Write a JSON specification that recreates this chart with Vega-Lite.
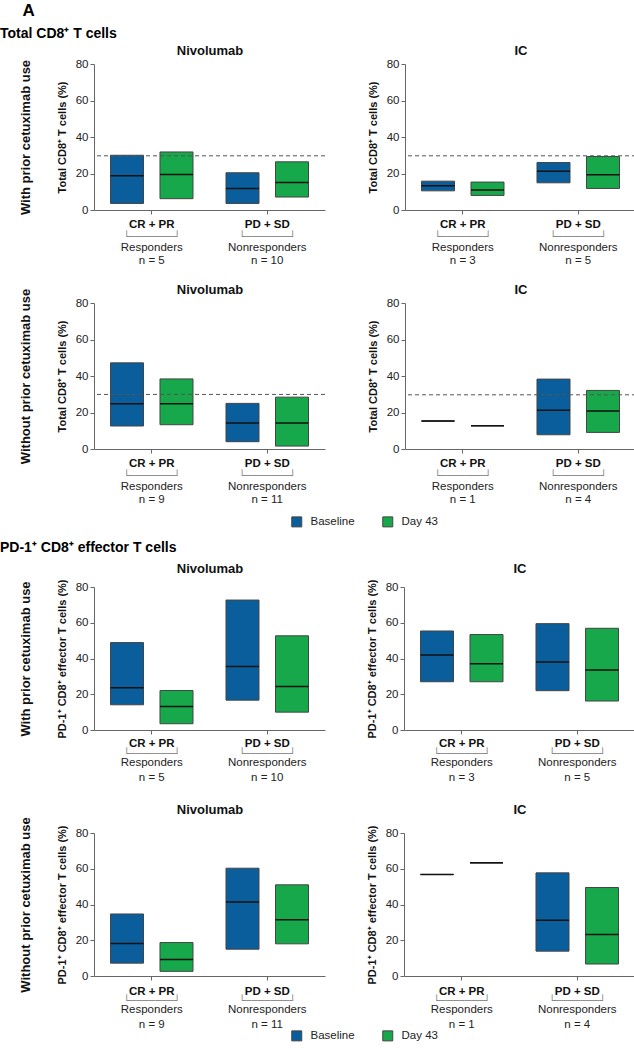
{
"$schema": "https://vega.github.io/schema/vega-lite/v6.json",
"padding": {"left": 0, "top": 2, "right": 0, "bottom": 0},
"config": {
  "font": "Liberation Sans",
  "view": {"stroke": null},
  "axis": {"grid": false, "domainColor": "#666", "tickColor": "#666", "labelColor": "#222", "titleColor": "#111", "labelFont": "Liberation Sans", "titleFont": "Liberation Sans"},
  "legend": {"orient": "none", "legendX": 197, "direction": "horizontal", "title": null, "symbolType": "square", "symbolSize": 100, "symbolStrokeColor": "#444", "symbolStrokeWidth": 1, "labelFontSize": 11.5, "labelColor": "#222", "columnPadding": 25, "labelOffset": 8}
},
"datasets": {
  "d1": [
    {"group": "CR + PR", "time": "Baseline", "min": 3.6, "median": 18.7, "max": 30.0},
    {"group": "CR + PR", "time": "Day 43", "min": 6.2, "median": 19.5, "max": 31.8},
    {"group": "PD + SD", "time": "Baseline", "min": 3.6, "median": 11.8, "max": 20.4},
    {"group": "PD + SD", "time": "Day 43", "min": 7.1, "median": 15.1, "max": 26.4}
  ],
  "d2": [
    {"group": "CR + PR", "time": "Baseline", "min": 10.5, "median": 13.3, "max": 15.8},
    {"group": "CR + PR", "time": "Day 43", "min": 8.0, "median": 10.9, "max": 15.3},
    {"group": "PD + SD", "time": "Baseline", "min": 14.9, "median": 21.3, "max": 26.0},
    {"group": "PD + SD", "time": "Day 43", "min": 11.8, "median": 19.3, "max": 29.3}
  ],
  "d3": [
    {"group": "CR + PR", "time": "Baseline", "min": 12.6, "median": 24.8, "max": 47.2},
    {"group": "CR + PR", "time": "Day 43", "min": 13.3, "median": 24.8, "max": 38.4},
    {"group": "PD + SD", "time": "Baseline", "min": 4.0, "median": 14.2, "max": 25.0},
    {"group": "PD + SD", "time": "Day 43", "min": 1.6, "median": 14.2, "max": 28.4}
  ],
  "d4": [
    {"group": "CR + PR", "time": "Baseline", "min": 15.3, "median": 15.3, "max": 15.3},
    {"group": "CR + PR", "time": "Day 43", "min": 12.75, "median": 12.75, "max": 12.75},
    {"group": "PD + SD", "time": "Baseline", "min": 7.8, "median": 21.3, "max": 38.3},
    {"group": "PD + SD", "time": "Day 43", "min": 9.1, "median": 20.8, "max": 32.1}
  ],
  "d5": [
    {"group": "CR + PR", "time": "Baseline", "min": 14.1, "median": 23.6, "max": 48.9},
    {"group": "CR + PR", "time": "Day 43", "min": 3.5, "median": 13.2, "max": 22.1},
    {"group": "PD + SD", "time": "Baseline", "min": 16.7, "median": 35.5, "max": 72.7},
    {"group": "PD + SD", "time": "Day 43", "min": 10.0, "median": 24.4, "max": 52.7}
  ],
  "d6": [
    {"group": "CR + PR", "time": "Baseline", "min": 27.0, "median": 41.9, "max": 55.4},
    {"group": "CR + PR", "time": "Day 43", "min": 27.0, "median": 37.0, "max": 53.4},
    {"group": "PD + SD", "time": "Baseline", "min": 22.0, "median": 38.1, "max": 59.5},
    {"group": "PD + SD", "time": "Day 43", "min": 16.2, "median": 33.5, "max": 56.9}
  ],
  "d7": [
    {"group": "CR + PR", "time": "Baseline", "min": 7.2, "median": 18.2, "max": 34.7},
    {"group": "CR + PR", "time": "Day 43", "min": 2.6, "median": 9.3, "max": 18.7},
    {"group": "PD + SD", "time": "Baseline", "min": 15.0, "median": 41.4, "max": 60.3},
    {"group": "PD + SD", "time": "Day 43", "min": 18.0, "median": 31.4, "max": 51.0}
  ],
  "d8": [
    {"group": "CR + PR", "time": "Baseline", "min": 56.8, "median": 56.8, "max": 56.8},
    {"group": "CR + PR", "time": "Day 43", "min": 63.3, "median": 63.3, "max": 63.3},
    {"group": "PD + SD", "time": "Baseline", "min": 13.9, "median": 31.2, "max": 57.7},
    {"group": "PD + SD", "time": "Day 43", "min": 6.7, "median": 23.2, "max": 49.5}
  ]
},
"title": {"text": "A", "anchor": "start", "frame": "bounds", "fontSize": 17, "fontWeight": "bold", "color": "#000", "offset": 7, "dx": 22.5},
"resolve": {"scale": {"color": "independent"}},
"spacing": 12,
"vconcat": [
{
  "title": {"text": "Total CD8⁺ T cells", "anchor": "start", "frame": "bounds", "fontSize": 14, "fontWeight": "bold", "color": "#000", "offset": 3, "dx": -19},
  "spacing": 17,
  "vconcat": [
  {"spacing": 41, "hconcat": [
    {"width": 231, "height": 146, "data": {"name": "d1"},
     "resolve": {"axis": {"x": "independent", "y": "independent"}},
     "layer": [
      {"mark": {"type": "bar", "stroke": "#444", "strokeWidth": 1},
       "encoding": {
        "x": {"field": "group", "type": "nominal", "sort": ["CR + PR", "PD + SD"], "scale": {"paddingInner": 0, "paddingOuter": 0}, "axis": {"orient": "bottom", "title": null, "labelAngle": 0, "labelFontSize": 11.5, "labelFontWeight": "bold", "labelColor": "#111", "labelPadding": 4, "tickSize": 4, "labelOverlap": false}},
        "xOffset": {"field": "time", "type": "nominal", "sort": ["Baseline", "Day 43"], "scale": {"paddingInner": 0.333, "paddingOuter": 0.333}},
        "y": {"field": "min", "type": "quantitative", "scale": {"domain": [0, 80]}, "axis": {"orient": "left", "title": "Total CD8⁺ T cells (%)", "values": [0, 20, 40, 60, 80], "tickSize": 4, "labelFontSize": 11.5, "labelPadding": 2, "titleFontSize": 11, "titleFontWeight": "bold", "titlePadding": 8}},
        "y2": {"field": "max"},
        "color": {"field": "time", "type": "nominal", "scale": {"domain": ["Baseline", "Day 43"], "range": ["#0b5e9c", "#17a84b"]}, "legend": {"legendY": 452}}
       }},
      {"mark": {"type": "bar", "fillOpacity": 0, "stroke": "#111", "strokeWidth": 1.5},
       "encoding": {
        "x": {"field": "group", "type": "nominal", "sort": ["CR + PR", "PD + SD"], "axis": {"orient": "bottom", "title": null, "domain": false, "ticks": false, "labelAngle": 0, "labelFont": "DejaVu Sans Mono", "labelFontSize": 10.5, "labelColor": "#888", "labelPadding": 21.5, "labelOverlap": false, "labelExpr": "'└───────┘'"}},
        "xOffset": {"field": "time", "type": "nominal", "sort": ["Baseline", "Day 43"]},
        "y": {"field": "median", "type": "quantitative", "scale": {"domain": [0, 80]}, "axis": {"orient": "left", "title": "With prior cetuximab use", "domain": false, "ticks": false, "labels": false, "titleFontSize": 13, "titleFontWeight": "bold", "titlePadding": 62}},
        "y2": {"field": "median"}
       }},
      {"mark": {"type": "point", "opacity": 0},
       "encoding": {
        "x": {"field": "group", "type": "nominal", "sort": ["CR + PR", "PD + SD"], "axis": {"orient": "bottom", "title": null, "domain": false, "ticks": false, "labelAngle": 0, "labelFontSize": 11.5, "labelColor": "#222", "labelPadding": 31, "labelLineHeight": 13, "labelOverlap": false, "labelExpr": "datum.value == 'CR + PR' ? ['Responders', 'n = 5'] : ['Nonresponders', 'n = 10']"}},
        "y": {"field": "median", "type": "quantitative", "scale": {"domain": [0, 80]}, "axis": null}
       }},
      {"mark": {"type": "point", "opacity": 0},
       "encoding": {
        "x": {"field": "group", "type": "nominal", "sort": ["CR + PR", "PD + SD"], "axis": {"orient": "top", "title": "Nivolumab", "domain": false, "ticks": false, "labels": false, "titleFontSize": 13, "titleFontWeight": "bold", "titleColor": "#111", "titlePadding": 7}}
       }},
      {"data": {"values": [{"ref": 29.7}]},
       "mark": {"type": "rule", "stroke": "#555", "strokeDash": [4, 3], "strokeWidth": 1},
       "encoding": {"y": {"field": "ref", "type": "quantitative", "scale": {"domain": [0, 80]}, "axis": null}}}
     ]},
    {"width": 231, "height": 146, "data": {"name": "d2"},
     "resolve": {"axis": {"x": "independent", "y": "independent"}},
     "layer": [
      {"mark": {"type": "bar", "stroke": "#444", "strokeWidth": 1},
       "encoding": {
        "x": {"field": "group", "type": "nominal", "sort": ["CR + PR", "PD + SD"], "scale": {"paddingInner": 0, "paddingOuter": 0}, "axis": {"orient": "bottom", "title": null, "labelAngle": 0, "labelFontSize": 11.5, "labelFontWeight": "bold", "labelColor": "#111", "labelPadding": 4, "tickSize": 4, "labelOverlap": false}},
        "xOffset": {"field": "time", "type": "nominal", "sort": ["Baseline", "Day 43"], "scale": {"paddingInner": 0.333, "paddingOuter": 0.333}},
        "y": {"field": "min", "type": "quantitative", "scale": {"domain": [0, 80]}, "axis": {"orient": "left", "title": "Total CD8⁺ T cells (%)", "values": [0, 20, 40, 60, 80], "tickSize": 4, "labelFontSize": 11.5, "labelPadding": 2, "titleFontSize": 11, "titleFontWeight": "bold", "titlePadding": 8}},
        "y2": {"field": "max"},
        "color": {"field": "time", "type": "nominal", "scale": {"domain": ["Baseline", "Day 43"], "range": ["#0b5e9c", "#17a84b"]}, "legend": {"legendY": 452}}
       }},
      {"mark": {"type": "bar", "fillOpacity": 0, "stroke": "#111", "strokeWidth": 1.5},
       "encoding": {
        "x": {"field": "group", "type": "nominal", "sort": ["CR + PR", "PD + SD"], "axis": {"orient": "bottom", "title": null, "domain": false, "ticks": false, "labelAngle": 0, "labelFont": "DejaVu Sans Mono", "labelFontSize": 10.5, "labelColor": "#888", "labelPadding": 21.5, "labelOverlap": false, "labelExpr": "'└───────┘'"}},
        "xOffset": {"field": "time", "type": "nominal", "sort": ["Baseline", "Day 43"]},
        "y": {"field": "median", "type": "quantitative", "scale": {"domain": [0, 80]}, "axis": null},
        "y2": {"field": "median"}
       }},
      {"mark": {"type": "point", "opacity": 0},
       "encoding": {
        "x": {"field": "group", "type": "nominal", "sort": ["CR + PR", "PD + SD"], "axis": {"orient": "bottom", "title": null, "domain": false, "ticks": false, "labelAngle": 0, "labelFontSize": 11.5, "labelColor": "#222", "labelPadding": 31, "labelLineHeight": 13, "labelOverlap": false, "labelExpr": "datum.value == 'CR + PR' ? ['Responders', 'n = 3'] : ['Nonresponders', 'n = 5']"}},
        "y": {"field": "median", "type": "quantitative", "scale": {"domain": [0, 80]}, "axis": null}
       }},
      {"mark": {"type": "point", "opacity": 0},
       "encoding": {
        "x": {"field": "group", "type": "nominal", "sort": ["CR + PR", "PD + SD"], "axis": {"orient": "top", "title": "IC", "domain": false, "ticks": false, "labels": false, "titleFontSize": 13, "titleFontWeight": "bold", "titleColor": "#111", "titlePadding": 7}}
       }},
      {"data": {"values": [{"ref": 29.7}]},
       "mark": {"type": "rule", "stroke": "#555", "strokeDash": [4, 3], "strokeWidth": 1},
       "encoding": {"y": {"field": "ref", "type": "quantitative", "scale": {"domain": [0, 80]}, "axis": null}}}
     ]}
  ]},
  {"spacing": 41, "hconcat": [
    {"width": 231, "height": 146, "data": {"name": "d3"},
     "resolve": {"axis": {"x": "independent", "y": "independent"}},
     "layer": [
      {"mark": {"type": "bar", "stroke": "#444", "strokeWidth": 1},
       "encoding": {
        "x": {"field": "group", "type": "nominal", "sort": ["CR + PR", "PD + SD"], "scale": {"paddingInner": 0, "paddingOuter": 0}, "axis": {"orient": "bottom", "title": null, "labelAngle": 0, "labelFontSize": 11.5, "labelFontWeight": "bold", "labelColor": "#111", "labelPadding": 4, "tickSize": 4, "labelOverlap": false}},
        "xOffset": {"field": "time", "type": "nominal", "sort": ["Baseline", "Day 43"], "scale": {"paddingInner": 0.333, "paddingOuter": 0.333}},
        "y": {"field": "min", "type": "quantitative", "scale": {"domain": [0, 80]}, "axis": {"orient": "left", "title": "Total CD8⁺ T cells (%)", "values": [0, 20, 40, 60, 80], "tickSize": 4, "labelFontSize": 11.5, "labelPadding": 2, "titleFontSize": 11, "titleFontWeight": "bold", "titlePadding": 8}},
        "y2": {"field": "max"},
        "color": {"field": "time", "type": "nominal", "scale": {"domain": ["Baseline", "Day 43"], "range": ["#0b5e9c", "#17a84b"]}, "legend": {"legendY": 452}}
       }},
      {"mark": {"type": "bar", "fillOpacity": 0, "stroke": "#111", "strokeWidth": 1.5},
       "encoding": {
        "x": {"field": "group", "type": "nominal", "sort": ["CR + PR", "PD + SD"], "axis": {"orient": "bottom", "title": null, "domain": false, "ticks": false, "labelAngle": 0, "labelFont": "DejaVu Sans Mono", "labelFontSize": 10.5, "labelColor": "#888", "labelPadding": 21.5, "labelOverlap": false, "labelExpr": "'└───────┘'"}},
        "xOffset": {"field": "time", "type": "nominal", "sort": ["Baseline", "Day 43"]},
        "y": {"field": "median", "type": "quantitative", "scale": {"domain": [0, 80]}, "axis": {"orient": "left", "title": "Without prior cetuximab use", "domain": false, "ticks": false, "labels": false, "titleFontSize": 13, "titleFontWeight": "bold", "titlePadding": 62}},
        "y2": {"field": "median"}
       }},
      {"mark": {"type": "point", "opacity": 0},
       "encoding": {
        "x": {"field": "group", "type": "nominal", "sort": ["CR + PR", "PD + SD"], "axis": {"orient": "bottom", "title": null, "domain": false, "ticks": false, "labelAngle": 0, "labelFontSize": 11.5, "labelColor": "#222", "labelPadding": 31, "labelLineHeight": 13, "labelOverlap": false, "labelExpr": "datum.value == 'CR + PR' ? ['Responders', 'n = 9'] : ['Nonresponders', 'n = 11']"}},
        "y": {"field": "median", "type": "quantitative", "scale": {"domain": [0, 80]}, "axis": null}
       }},
      {"mark": {"type": "point", "opacity": 0},
       "encoding": {
        "x": {"field": "group", "type": "nominal", "sort": ["CR + PR", "PD + SD"], "axis": {"orient": "top", "title": "Nivolumab", "domain": false, "ticks": false, "labels": false, "titleFontSize": 13, "titleFontWeight": "bold", "titleColor": "#111", "titlePadding": 7}}
       }},
      {"data": {"values": [{"ref": 29.9}]},
       "mark": {"type": "rule", "stroke": "#555", "strokeDash": [4, 3], "strokeWidth": 1},
       "encoding": {"y": {"field": "ref", "type": "quantitative", "scale": {"domain": [0, 80]}, "axis": null}}}
     ]},
    {"width": 231, "height": 146, "data": {"name": "d4"},
     "resolve": {"axis": {"x": "independent", "y": "independent"}},
     "layer": [
      {"mark": {"type": "bar", "stroke": "#444", "strokeWidth": 1},
       "encoding": {
        "x": {"field": "group", "type": "nominal", "sort": ["CR + PR", "PD + SD"], "scale": {"paddingInner": 0, "paddingOuter": 0}, "axis": {"orient": "bottom", "title": null, "labelAngle": 0, "labelFontSize": 11.5, "labelFontWeight": "bold", "labelColor": "#111", "labelPadding": 4, "tickSize": 4, "labelOverlap": false}},
        "xOffset": {"field": "time", "type": "nominal", "sort": ["Baseline", "Day 43"], "scale": {"paddingInner": 0.333, "paddingOuter": 0.333}},
        "y": {"field": "min", "type": "quantitative", "scale": {"domain": [0, 80]}, "axis": {"orient": "left", "title": "Total CD8⁺ T cells (%)", "values": [0, 20, 40, 60, 80], "tickSize": 4, "labelFontSize": 11.5, "labelPadding": 2, "titleFontSize": 11, "titleFontWeight": "bold", "titlePadding": 8}},
        "y2": {"field": "max"},
        "color": {"field": "time", "type": "nominal", "scale": {"domain": ["Baseline", "Day 43"], "range": ["#0b5e9c", "#17a84b"]}, "legend": {"legendY": 452}}
       }},
      {"mark": {"type": "bar", "fillOpacity": 0, "stroke": "#111", "strokeWidth": 1.5},
       "encoding": {
        "x": {"field": "group", "type": "nominal", "sort": ["CR + PR", "PD + SD"], "axis": {"orient": "bottom", "title": null, "domain": false, "ticks": false, "labelAngle": 0, "labelFont": "DejaVu Sans Mono", "labelFontSize": 10.5, "labelColor": "#888", "labelPadding": 21.5, "labelOverlap": false, "labelExpr": "'└───────┘'"}},
        "xOffset": {"field": "time", "type": "nominal", "sort": ["Baseline", "Day 43"]},
        "y": {"field": "median", "type": "quantitative", "scale": {"domain": [0, 80]}, "axis": null},
        "y2": {"field": "median"}
       }},
      {"mark": {"type": "point", "opacity": 0},
       "encoding": {
        "x": {"field": "group", "type": "nominal", "sort": ["CR + PR", "PD + SD"], "axis": {"orient": "bottom", "title": null, "domain": false, "ticks": false, "labelAngle": 0, "labelFontSize": 11.5, "labelColor": "#222", "labelPadding": 31, "labelLineHeight": 13, "labelOverlap": false, "labelExpr": "datum.value == 'CR + PR' ? ['Responders', 'n = 1'] : ['Nonresponders', 'n = 4']"}},
        "y": {"field": "median", "type": "quantitative", "scale": {"domain": [0, 80]}, "axis": null}
       }},
      {"mark": {"type": "point", "opacity": 0},
       "encoding": {
        "x": {"field": "group", "type": "nominal", "sort": ["CR + PR", "PD + SD"], "axis": {"orient": "top", "title": "IC", "domain": false, "ticks": false, "labels": false, "titleFontSize": 13, "titleFontWeight": "bold", "titleColor": "#111", "titlePadding": 7}}
       }},
      {"data": {"values": [{"ref": 29.7}]},
       "mark": {"type": "rule", "stroke": "#555", "strokeDash": [4, 3], "strokeWidth": 1},
       "encoding": {"y": {"field": "ref", "type": "quantitative", "scale": {"domain": [0, 80]}, "axis": null}}}
     ]}
  ]}
  ]
},
{
  "title": {"text": "PD-1⁺ CD8⁺ effector T cells", "anchor": "start", "frame": "bounds", "fontSize": 14, "fontWeight": "bold", "color": "#000", "offset": 7, "dx": -19},
  "spacing": 20,
  "vconcat": [
  {"spacing": 41, "hconcat": [
    {"width": 231, "height": 143, "data": {"name": "d5"},
     "resolve": {"axis": {"x": "independent", "y": "independent"}},
     "layer": [
      {"mark": {"type": "bar", "stroke": "#444", "strokeWidth": 1},
       "encoding": {
        "x": {"field": "group", "type": "nominal", "sort": ["CR + PR", "PD + SD"], "scale": {"paddingInner": 0, "paddingOuter": 0}, "axis": {"orient": "bottom", "title": null, "labelAngle": 0, "labelFontSize": 11.5, "labelFontWeight": "bold", "labelColor": "#111", "labelPadding": 3, "tickSize": 4, "labelOverlap": false}},
        "xOffset": {"field": "time", "type": "nominal", "sort": ["Baseline", "Day 43"], "scale": {"paddingInner": 0.333, "paddingOuter": 0.333}},
        "y": {"field": "min", "type": "quantitative", "scale": {"domain": [0, 80]}, "axis": {"orient": "left", "title": "PD-1⁺ CD8⁺ effector T cells (%)", "values": [0, 20, 40, 60, 80], "tickSize": 4, "labelFontSize": 11.5, "labelPadding": 2, "titleFontSize": 11, "titleFontWeight": "bold", "titlePadding": 8}},
        "y2": {"field": "max"},
        "color": {"field": "time", "type": "nominal", "scale": {"domain": ["Baseline", "Day 43"], "range": ["#0b5e9c", "#17a84b"]}, "legend": {"legendY": 443}}
       }},
      {"mark": {"type": "bar", "fillOpacity": 0, "stroke": "#111", "strokeWidth": 1.5},
       "encoding": {
        "x": {"field": "group", "type": "nominal", "sort": ["CR + PR", "PD + SD"], "axis": {"orient": "bottom", "title": null, "domain": false, "ticks": false, "labelAngle": 0, "labelFont": "DejaVu Sans Mono", "labelFontSize": 10.5, "labelColor": "#888", "labelPadding": 18.5, "labelOverlap": false, "labelExpr": "'└───────┘'"}},
        "xOffset": {"field": "time", "type": "nominal", "sort": ["Baseline", "Day 43"]},
        "y": {"field": "median", "type": "quantitative", "scale": {"domain": [0, 80]}, "axis": {"orient": "left", "title": "With prior cetuximab use", "domain": false, "ticks": false, "labels": false, "titleFontSize": 13, "titleFontWeight": "bold", "titlePadding": 62}},
        "y2": {"field": "median"}
       }},
      {"mark": {"type": "point", "opacity": 0},
       "encoding": {
        "x": {"field": "group", "type": "nominal", "sort": ["CR + PR", "PD + SD"], "axis": {"orient": "bottom", "title": null, "domain": false, "ticks": false, "labelAngle": 0, "labelFontSize": 11.5, "labelColor": "#222", "labelPadding": 26, "labelLineHeight": 15, "labelOverlap": false, "labelExpr": "datum.value == 'CR + PR' ? ['Responders', 'n = 5'] : ['Nonresponders', 'n = 10']"}},
        "y": {"field": "median", "type": "quantitative", "scale": {"domain": [0, 80]}, "axis": null}
       }},
      {"mark": {"type": "point", "opacity": 0},
       "encoding": {
        "x": {"field": "group", "type": "nominal", "sort": ["CR + PR", "PD + SD"], "axis": {"orient": "top", "title": "Nivolumab", "domain": false, "ticks": false, "labels": false, "titleFontSize": 13, "titleFontWeight": "bold", "titleColor": "#111", "titlePadding": 12}}
       }}
     ]},
    {"width": 231, "height": 143, "data": {"name": "d6"},
     "resolve": {"axis": {"x": "independent", "y": "independent"}},
     "layer": [
      {"mark": {"type": "bar", "stroke": "#444", "strokeWidth": 1},
       "encoding": {
        "x": {"field": "group", "type": "nominal", "sort": ["CR + PR", "PD + SD"], "scale": {"paddingInner": 0, "paddingOuter": 0}, "axis": {"orient": "bottom", "title": null, "labelAngle": 0, "labelFontSize": 11.5, "labelFontWeight": "bold", "labelColor": "#111", "labelPadding": 3, "tickSize": 4, "labelOverlap": false}},
        "xOffset": {"field": "time", "type": "nominal", "sort": ["Baseline", "Day 43"], "scale": {"paddingInner": 0.333, "paddingOuter": 0.333}},
        "y": {"field": "min", "type": "quantitative", "scale": {"domain": [0, 80]}, "axis": {"orient": "left", "title": "PD-1⁺ CD8⁺ effector T cells (%)", "values": [0, 20, 40, 60, 80], "tickSize": 4, "labelFontSize": 11.5, "labelPadding": 2, "titleFontSize": 11, "titleFontWeight": "bold", "titlePadding": 8}},
        "y2": {"field": "max"},
        "color": {"field": "time", "type": "nominal", "scale": {"domain": ["Baseline", "Day 43"], "range": ["#0b5e9c", "#17a84b"]}, "legend": {"legendY": 443}}
       }},
      {"mark": {"type": "bar", "fillOpacity": 0, "stroke": "#111", "strokeWidth": 1.5},
       "encoding": {
        "x": {"field": "group", "type": "nominal", "sort": ["CR + PR", "PD + SD"], "axis": {"orient": "bottom", "title": null, "domain": false, "ticks": false, "labelAngle": 0, "labelFont": "DejaVu Sans Mono", "labelFontSize": 10.5, "labelColor": "#888", "labelPadding": 18.5, "labelOverlap": false, "labelExpr": "'└───────┘'"}},
        "xOffset": {"field": "time", "type": "nominal", "sort": ["Baseline", "Day 43"]},
        "y": {"field": "median", "type": "quantitative", "scale": {"domain": [0, 80]}, "axis": null},
        "y2": {"field": "median"}
       }},
      {"mark": {"type": "point", "opacity": 0},
       "encoding": {
        "x": {"field": "group", "type": "nominal", "sort": ["CR + PR", "PD + SD"], "axis": {"orient": "bottom", "title": null, "domain": false, "ticks": false, "labelAngle": 0, "labelFontSize": 11.5, "labelColor": "#222", "labelPadding": 26, "labelLineHeight": 15, "labelOverlap": false, "labelExpr": "datum.value == 'CR + PR' ? ['Responders', 'n = 3'] : ['Nonresponders', 'n = 5']"}},
        "y": {"field": "median", "type": "quantitative", "scale": {"domain": [0, 80]}, "axis": null}
       }},
      {"mark": {"type": "point", "opacity": 0},
       "encoding": {
        "x": {"field": "group", "type": "nominal", "sort": ["CR + PR", "PD + SD"], "axis": {"orient": "top", "title": "IC", "domain": false, "ticks": false, "labels": false, "titleFontSize": 13, "titleFontWeight": "bold", "titleColor": "#111", "titlePadding": 12}}
       }}
     ]}
  ]},
  {"spacing": 41, "hconcat": [
    {"width": 231, "height": 143, "data": {"name": "d7"},
     "resolve": {"axis": {"x": "independent", "y": "independent"}},
     "layer": [
      {"mark": {"type": "bar", "stroke": "#444", "strokeWidth": 1},
       "encoding": {
        "x": {"field": "group", "type": "nominal", "sort": ["CR + PR", "PD + SD"], "scale": {"paddingInner": 0, "paddingOuter": 0}, "axis": {"orient": "bottom", "title": null, "labelAngle": 0, "labelFontSize": 11.5, "labelFontWeight": "bold", "labelColor": "#111", "labelPadding": 5, "tickSize": 4, "labelOverlap": false}},
        "xOffset": {"field": "time", "type": "nominal", "sort": ["Baseline", "Day 43"], "scale": {"paddingInner": 0.333, "paddingOuter": 0.333}},
        "y": {"field": "min", "type": "quantitative", "scale": {"domain": [0, 80]}, "axis": {"orient": "left", "title": "PD-1⁺ CD8⁺ effector T cells (%)", "values": [0, 20, 40, 60, 80], "tickSize": 4, "labelFontSize": 11.5, "labelPadding": 2, "titleFontSize": 11, "titleFontWeight": "bold", "titlePadding": 8}},
        "y2": {"field": "max"},
        "color": {"field": "time", "type": "nominal", "scale": {"domain": ["Baseline", "Day 43"], "range": ["#0b5e9c", "#17a84b"]}, "legend": {"legendY": 443}}
       }},
      {"mark": {"type": "bar", "fillOpacity": 0, "stroke": "#111", "strokeWidth": 1.5},
       "encoding": {
        "x": {"field": "group", "type": "nominal", "sort": ["CR + PR", "PD + SD"], "axis": {"orient": "bottom", "title": null, "domain": false, "ticks": false, "labelAngle": 0, "labelFont": "DejaVu Sans Mono", "labelFontSize": 10.5, "labelColor": "#888", "labelPadding": 19.5, "labelOverlap": false, "labelExpr": "'└───────┘'"}},
        "xOffset": {"field": "time", "type": "nominal", "sort": ["Baseline", "Day 43"]},
        "y": {"field": "median", "type": "quantitative", "scale": {"domain": [0, 80]}, "axis": {"orient": "left", "title": "Without prior cetuximab use", "domain": false, "ticks": false, "labels": false, "titleFontSize": 13, "titleFontWeight": "bold", "titlePadding": 62}},
        "y2": {"field": "median"}
       }},
      {"mark": {"type": "point", "opacity": 0},
       "encoding": {
        "x": {"field": "group", "type": "nominal", "sort": ["CR + PR", "PD + SD"], "axis": {"orient": "bottom", "title": null, "domain": false, "ticks": false, "labelAngle": 0, "labelFontSize": 11.5, "labelColor": "#222", "labelPadding": 27, "labelLineHeight": 15, "labelOverlap": false, "labelExpr": "datum.value == 'CR + PR' ? ['Responders', 'n = 9'] : ['Nonresponders', 'n = 11']"}},
        "y": {"field": "median", "type": "quantitative", "scale": {"domain": [0, 80]}, "axis": null}
       }},
      {"mark": {"type": "point", "opacity": 0},
       "encoding": {
        "x": {"field": "group", "type": "nominal", "sort": ["CR + PR", "PD + SD"], "axis": {"orient": "top", "title": "Nivolumab", "domain": false, "ticks": false, "labels": false, "titleFontSize": 13, "titleFontWeight": "bold", "titleColor": "#111", "titlePadding": 17}}
       }}
     ]},
    {"width": 231, "height": 143, "data": {"name": "d8"},
     "resolve": {"axis": {"x": "independent", "y": "independent"}},
     "layer": [
      {"mark": {"type": "bar", "stroke": "#444", "strokeWidth": 1},
       "encoding": {
        "x": {"field": "group", "type": "nominal", "sort": ["CR + PR", "PD + SD"], "scale": {"paddingInner": 0, "paddingOuter": 0}, "axis": {"orient": "bottom", "title": null, "labelAngle": 0, "labelFontSize": 11.5, "labelFontWeight": "bold", "labelColor": "#111", "labelPadding": 5, "tickSize": 4, "labelOverlap": false}},
        "xOffset": {"field": "time", "type": "nominal", "sort": ["Baseline", "Day 43"], "scale": {"paddingInner": 0.333, "paddingOuter": 0.333}},
        "y": {"field": "min", "type": "quantitative", "scale": {"domain": [0, 80]}, "axis": {"orient": "left", "title": "PD-1⁺ CD8⁺ effector T cells (%)", "values": [0, 20, 40, 60, 80], "tickSize": 4, "labelFontSize": 11.5, "labelPadding": 2, "titleFontSize": 11, "titleFontWeight": "bold", "titlePadding": 8}},
        "y2": {"field": "max"},
        "color": {"field": "time", "type": "nominal", "scale": {"domain": ["Baseline", "Day 43"], "range": ["#0b5e9c", "#17a84b"]}, "legend": {"legendY": 443}}
       }},
      {"mark": {"type": "bar", "fillOpacity": 0, "stroke": "#111", "strokeWidth": 1.5},
       "encoding": {
        "x": {"field": "group", "type": "nominal", "sort": ["CR + PR", "PD + SD"], "axis": {"orient": "bottom", "title": null, "domain": false, "ticks": false, "labelAngle": 0, "labelFont": "DejaVu Sans Mono", "labelFontSize": 10.5, "labelColor": "#888", "labelPadding": 19.5, "labelOverlap": false, "labelExpr": "'└───────┘'"}},
        "xOffset": {"field": "time", "type": "nominal", "sort": ["Baseline", "Day 43"]},
        "y": {"field": "median", "type": "quantitative", "scale": {"domain": [0, 80]}, "axis": null},
        "y2": {"field": "median"}
       }},
      {"mark": {"type": "point", "opacity": 0},
       "encoding": {
        "x": {"field": "group", "type": "nominal", "sort": ["CR + PR", "PD + SD"], "axis": {"orient": "bottom", "title": null, "domain": false, "ticks": false, "labelAngle": 0, "labelFontSize": 11.5, "labelColor": "#222", "labelPadding": 27, "labelLineHeight": 15, "labelOverlap": false, "labelExpr": "datum.value == 'CR + PR' ? ['Responders', 'n = 1'] : ['Nonresponders', 'n = 4']"}},
        "y": {"field": "median", "type": "quantitative", "scale": {"domain": [0, 80]}, "axis": null}
       }},
      {"mark": {"type": "point", "opacity": 0},
       "encoding": {
        "x": {"field": "group", "type": "nominal", "sort": ["CR + PR", "PD + SD"], "axis": {"orient": "top", "title": "IC", "domain": false, "ticks": false, "labels": false, "titleFontSize": 13, "titleFontWeight": "bold", "titleColor": "#111", "titlePadding": 17}}
       }}
     ]}
  ]}
  ]
}
]
}
